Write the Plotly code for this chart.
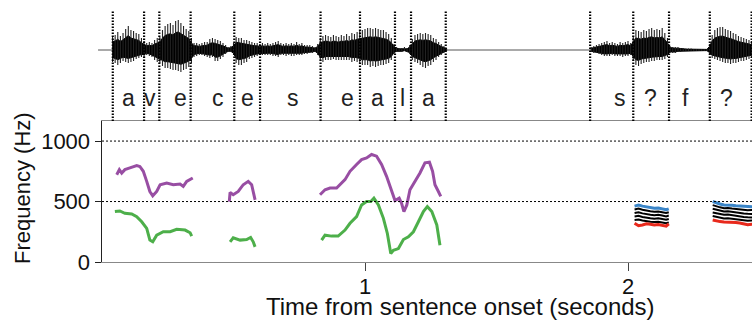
import plotly.graph_objects as go

W, H = 752, 325
FONT = "Liberation Sans, Arial, sans-serif"

# ---------------- data ----------------
# Formant tracks (time s, frequency Hz)
f2_seg1_t = [0.056, 0.066, 0.075, 0.087, 0.106, 0.132, 0.144, 0.157, 0.170, 0.182, 0.193, 0.208, 0.221, 0.246, 0.271, 0.297, 0.309, 0.322, 0.345]
f2_seg1_hz = [722, 764, 736, 764, 778, 797, 790, 750, 667, 583, 547, 583, 639, 653, 639, 645, 625, 667, 695]
f1_seg1_t = [0.049, 0.068, 0.087, 0.113, 0.132, 0.151, 0.170, 0.182, 0.193, 0.208, 0.233, 0.259, 0.284, 0.316, 0.335, 0.341]
f1_seg1_hz = [417, 422, 403, 397, 375, 333, 278, 181, 167, 222, 250, 250, 270, 264, 242, 214]

f2_seg2_t = [0.484, 0.487, 0.499, 0.518, 0.537, 0.556, 0.569, 0.582]
f2_seg2_hz = [500, 575, 556, 583, 639, 667, 639, 514]
f1_seg2_t = [0.487, 0.499, 0.525, 0.550, 0.565, 0.575, 0.582]
f1_seg2_hz = [167, 200, 181, 186, 203, 167, 125]

f2_seg3_t = [0.829, 0.848, 0.867, 0.892, 0.924, 0.943, 0.968, 0.987, 1.006, 1.025, 1.044, 1.063, 1.082, 1.101, 1.114, 1.130, 1.139, 1.148, 1.159, 1.171, 1.190, 1.209, 1.228, 1.245, 1.257, 1.266, 1.279, 1.288]
f2_seg3_hz = [556, 597, 611, 611, 681, 750, 806, 847, 861, 889, 875, 806, 708, 583, 508, 528, 486, 417, 472, 597, 667, 736, 820, 825, 750, 639, 583, 542]
f1_seg3_t = [0.835, 0.848, 0.873, 0.898, 0.924, 0.943, 0.968, 0.987, 1.006, 1.022, 1.034, 1.051, 1.070, 1.085, 1.098, 1.108, 1.127, 1.146, 1.165, 1.184, 1.203, 1.222, 1.237, 1.254, 1.273, 1.285]
f1_seg3_hz = [181, 222, 214, 214, 264, 320, 375, 472, 500, 500, 528, 472, 361, 236, 70, 97, 111, 186, 208, 250, 333, 417, 458, 417, 306, 139]

# Bundles of tracks (blue top, black middle, red bottom)
bundle1_t = [2.025, 2.040, 2.055, 2.070, 2.085, 2.100, 2.115, 2.130, 2.145, 2.155]
bundle1_blue = [462, 470, 462, 455, 448, 445, 446, 440, 432, 440]
bundle1_black = [
    [434, 442, 432, 424, 420, 416, 418, 412, 405, 412],
    [405, 412, 402, 394, 390, 387, 390, 384, 377, 384],
    [376, 382, 372, 365, 361, 358, 361, 355, 349, 356],
    [348, 352, 343, 336, 332, 330, 333, 327, 321, 328],
]
bundle1_red = [320, 300, 306, 316, 312, 306, 310, 303, 296, 316]

bundle2_t = [2.322, 2.335, 2.350, 2.365, 2.380, 2.395, 2.410, 2.425, 2.440, 2.455, 2.470, 2.480]
bundle2_blue = [500, 488, 480, 472, 474, 470, 466, 464, 460, 458, 460, 456]
bundle2_black = [
    [470, 460, 452, 445, 447, 442, 438, 436, 430, 428, 430, 426],
    [440, 432, 424, 418, 420, 414, 410, 407, 401, 399, 401, 397],
    [410, 404, 396, 390, 392, 386, 381, 378, 372, 370, 372, 368],
    [380, 374, 366, 360, 362, 357, 352, 349, 343, 341, 343, 339],
]
bundle2_red = [348, 340, 334, 330, 330, 328, 326, 322, 316, 308, 312, 308]

# Waveform envelope (time s, upper / lower amplitude, arbitrary units)
wave_a_t = [round(0.04 + 0.01 * i, 2) for i in range(128)]
wave_a_up = [14, 15, 18, 14, 17, 21, 24, 20, 19, 17, 16, 12, 9, 7, 8, 7, 10, 12, 13, 20,
             24, 26, 27, 25, 29, 30, 27, 24, 21, 19, 12, 7, 7, 6, 7, 8, 8, 11, 12, 11,
             10, 9, 7, 5, 3, 4, 7, 13, 12, 12, 10, 10, 9, 8, 7, 7, 6, 7, 6, 7,
             6, 7, 8, 9, 7, 6, 7, 6, 7, 6, 8, 6, 7, 5, 5, 5, 4, 3, 6, 12,
             14, 15, 14, 13, 15, 14, 13, 15, 14, 16, 14, 17, 16, 18, 19, 20, 21, 22, 22, 21,
             22, 21, 20, 20, 18, 16, 12, 6, 3, 2, 2, 3, 2, 5, 11, 15, 16, 17, 16, 17,
             16, 15, 12, 11, 8, 6, 4, 2]
wave_a_lo = [-12, -13, -15, -13, -11, -12, -13, -12, -11, -9, -8, -7, -7, -5, -6, -7, -10, -12, -13, -16,
             -18, -18, -19, -20, -20, -21, -22, -20, -19, -17, -13, -7, -6, -5, -5, -6, -7, -8, -7, -11,
             -11, -9, -7, -4, -2, -2, -5, -13, -15, -15, -13, -12, -9, -8, -7, -6, -5, -5, -5, -5,
             -5, -6, -6, -7, -5, -5, -6, -5, -6, -6, -5, -5, -5, -4, -4, -3, -3, -2, -5, -11,
             -12, -10, -10, -10, -9, -10, -10, -10, -10, -10, -10, -12, -11, -12, -13, -15, -15, -15, -17, -16,
             -17, -16, -15, -15, -14, -13, -10, -4, -2, -2, -2, -1, -2, -4, -10, -12, -13, -15, -17, -18,
             -16, -15, -12, -10, -7, -5, -3, -1]
wave_b_t = [round(1.86 + 0.01 * i, 2) for i in range(62)]
wave_b_up = [3, 4, 5, 6, 7, 8, 9, 7, 8, 7, 6, 8, 7, 8, 9, 7, 14, 20, 19, 18,
             20, 19, 21, 22, 20, 21, 20, 22, 17, 12, 4, 3, 3, 3, 2, 2, 1.5, 1.5, 1.5, 1,
             1, 1, 1, 1, 1, 6, 15, 20, 22, 23, 23, 21, 20, 19, 17, 16, 14, 13, 12, 11,
             10, 9]
wave_b_lo = [-2, -3, -3, -4, -5, -6, -6, -6, -5, -6, -6, -6, -7, -6, -6, -5, -10, -15, -16, -14,
             -13, -12, -12, -11, -11, -10, -10, -10, -9, -7, -3, -3, -3, -2, -2, -1, -1, -1, -1, -1,
             -1, -1, -1, -1, -1, -4, -8, -9, -10, -11, -12, -13, -13, -14, -13, -13, -12, -11, -11, -10,
             -9, -8]
wave_baseline_t = [-0.015, 2.48]

# Segment boundaries (s) and phoneme labels
boundaries = [0.041, 0.160, 0.218, 0.337, 0.503, 0.601, 0.831, 0.981, 1.114, 1.175, 1.307,
              1.856, 2.020, 2.156, 2.311, 2.470]
phones = ["a", "v", "e", "c", "e", "s", "e", "a", "l", "a", "s", "?", "f", "?"]
phone_t = [0.099, 0.183, 0.297, 0.441, 0.555, 0.726, 0.932, 1.046, 1.141, 1.240, 1.970, 2.084, 2.217, 2.376]

y_ticks = [0, 500, 1000]
x_ticks = [1, 2]
x_tick_labels = ["1", "2"]
grid_levels = [500, 1000]

# ---------------- layout helpers ----------------
def py(px):  # pixel row -> paper y
    return 1 - px / H

X0 = 102          # pixel of t = 0
PX_PER_S = 263.0
x_range = [0, (W - X0) / PX_PER_S]
x2_range = [-X0 / PX_PER_S, (W - X0) / PX_PER_S]

PURPLE = "#984ea3"
GREEN = "#4daf4a"
BLUE = "#3a85c8"
RED = "#e8291c"

fig = go.Figure()

# waveform baseline
fig.add_trace(go.Scatter(x=wave_baseline_t, y=[0, 0], mode="lines",
                         line=dict(color="#555", width=1), xaxis="x2", yaxis="y2",
                         hoverinfo="skip", showlegend=False))

def strokes(ts, ups, los):
    xs, ys = [], []
    for t, u, l in zip(ts, ups, los):
        xs += [t, t, None]
        ys += [l, u, None]
    return xs, ys

for ts, ups, los in [(wave_a_t, wave_a_up, wave_a_lo), (wave_b_t, wave_b_up, wave_b_lo)]:
    # dense core of the waveform
    fig.add_trace(go.Scatter(x=ts + ts[::-1], y=[u * 0.6 for u in ups] + [l * 0.65 for l in los[::-1]],
                             mode="lines", fill="toself", fillcolor="#000",
                             line=dict(color="#000", width=1), xaxis="x2", yaxis="y2",
                             hoverinfo="skip", showlegend=False))
    xs, ys = strokes(ts, ups, los)
    fig.add_trace(go.Scatter(x=xs, y=ys, mode="lines", line=dict(color="#222", width=1.1),
                             xaxis="x2", yaxis="y2", hoverinfo="skip", showlegend=False))

# formant tracks
for t, f in [(f2_seg1_t, f2_seg1_hz), (f2_seg2_t, f2_seg2_hz), (f2_seg3_t, f2_seg3_hz)]:
    fig.add_trace(go.Scatter(x=t, y=f, mode="lines", line=dict(color=PURPLE, width=3),
                             showlegend=False, hoverinfo="skip"))
for t, f in [(f1_seg1_t, f1_seg1_hz), (f1_seg2_t, f1_seg2_hz), (f1_seg3_t, f1_seg3_hz)]:
    fig.add_trace(go.Scatter(x=t, y=f, mode="lines", line=dict(color=GREEN, width=3),
                             showlegend=False, hoverinfo="skip"))

for bt, blue, blacks, red in [(bundle1_t, bundle1_blue, bundle1_black, bundle1_red),
                              (bundle2_t, bundle2_blue, bundle2_black, bundle2_red)]:
    for b in blacks:
        fig.add_trace(go.Scatter(x=bt, y=b, mode="lines", line=dict(color="#000", width=2),
                                 showlegend=False, hoverinfo="skip"))
    fig.add_trace(go.Scatter(x=bt, y=blue, mode="lines", line=dict(color=BLUE, width=3),
                             showlegend=False, hoverinfo="skip"))
    fig.add_trace(go.Scatter(x=bt, y=red, mode="lines", line=dict(color=RED, width=3),
                             showlegend=False, hoverinfo="skip"))

shapes = []
for b in boundaries:
    shapes.append(dict(type="line", xref="x2", yref="paper", x0=b, x1=b, y0=py(121), y1=py(11),
                       line=dict(color="#000", width=2.2, dash="1.5px,1.5px")))
for g in grid_levels:
    shapes.append(dict(type="line", xref="x", yref="y", x0=x_range[0], x1=x_range[1], y0=g, y1=g,
                       line=dict(color="#000", width=1, dash="2px,2px")))

annotations = []
for p, t in zip(phones, phone_t):
    annotations.append(dict(x=t, y=py(98), xref="x2", yref="paper", text=p, showarrow=False,
                            font=dict(family=FONT, size=23, color="#222"),
                            xanchor="center", yanchor="middle"))
for v, lab in zip(x_ticks, x_tick_labels):
    annotations.append(dict(x=v, y=py(286), xref="x", yref="paper", text=lab, showarrow=False,
                            font=dict(family=FONT, size=22, color="#111"),
                            xanchor="center", yanchor="middle"))
annotations.append(dict(x=22 / W, y=py(188), xref="paper", yref="paper", text="Frequency (Hz)",
                        textangle=-90, showarrow=False, font=dict(family=FONT, size=22, color="#111"),
                        xanchor="center", yanchor="middle"))
annotations.append(dict(x=460 / W, y=py(306), xref="paper", yref="paper",
                        text="Time from sentence onset (seconds)", showarrow=False,
                        font=dict(family=FONT, size=24, color="#111"),
                        xanchor="center", yanchor="middle"))

fig.update_layout(
    width=W, height=H, margin=dict(l=0, r=0, t=0, b=0, autoexpand=False),
    paper_bgcolor="white", plot_bgcolor="white",
    font=dict(family=FONT, size=22, color="#111"),
    xaxis=dict(domain=[X0 / W, 1], range=x_range, tickvals=x_ticks, ticks="outside", ticklen=8,
               tickwidth=1, tickcolor="#444", showticklabels=False, showline=True,
               linecolor="#888", linewidth=1, mirror=True, showgrid=False, zeroline=False,
               anchor="y", automargin=False),
    yaxis=dict(domain=[py(262), py(121)], range=[0, 1166], tickvals=y_ticks, ticks="outside",
               ticklen=6, tickwidth=1, tickcolor="#222", showline=True, linecolor="#222",
               linewidth=1.5, showgrid=False, zeroline=False, anchor="x", automargin=False,
               tickfont=dict(family=FONT, size=22, color="#111")),
    xaxis2=dict(domain=[0, 1], range=x2_range, visible=False, anchor="y2", automargin=False),
    yaxis2=dict(domain=[py(121), 1], range=[-71, 50], visible=False, anchor="x2", automargin=False),
    shapes=shapes, annotations=annotations, showlegend=False,
)

fig.write_html("out.html", config={"displayModeBar": False, "staticPlot": True},
               post_script="document.body.style.margin='0px';document.body.style.overflow='hidden';")
